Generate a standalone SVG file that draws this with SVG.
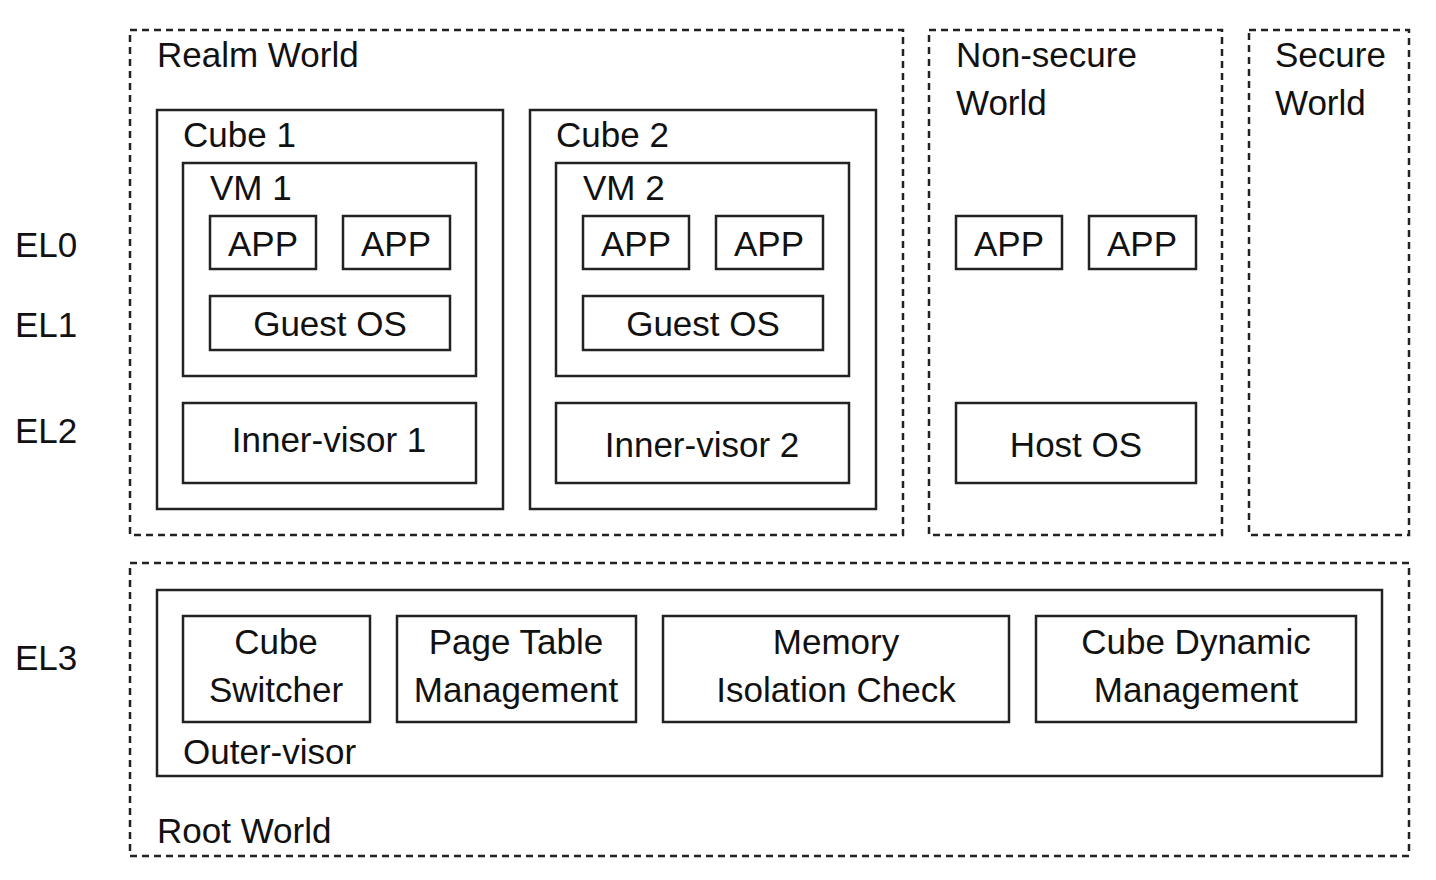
<svg xmlns="http://www.w3.org/2000/svg" width="1436" height="880" viewBox="0 0 1436 880">
<style>
.d{fill:none;stroke:#222;stroke-width:2.5;stroke-dasharray:7,5}
.b{fill:#fff;stroke:#222;stroke-width:2.5}
text{font-family:"Liberation Sans",Arial,sans-serif;font-size:35px;fill:#111}
.c{text-anchor:middle}
</style>
<rect width="1436" height="880" fill="#fff"/>
<g id="labels">
<text x="15" y="257">EL0</text><text x="15" y="337">EL1</text><text x="15" y="443">EL2</text><text x="15" y="670">EL3</text>
</g>
<g id="realm"><rect class="d" x="130" y="30" width="773" height="505"/><text x="157" y="67">Realm World</text></g>
<g id="nonsecure"><rect class="d" x="929" y="30" width="293" height="505"/><text x="956" y="67">Non-secure</text><text x="956" y="115">World</text></g>
<g id="secure"><rect class="d" x="1249" y="30" width="160" height="505"/><text x="1275" y="67">Secure</text><text x="1275" y="115">World</text></g>
<g id="root"><rect class="d" x="130" y="563" width="1279" height="293"/><text x="157" y="843">Root World</text></g>
<g id="cube1"><rect class="b" x="157" y="110" width="346" height="399"/><text x="183" y="147">Cube 1</text></g>
<g id="vm1"><rect class="b" x="183" y="163" width="293" height="213"/><text x="210" y="200">VM 1</text></g>
<g id="app1"><rect class="b" x="210" y="216" width="106" height="53"/><text class="c" x="263" y="256">APP</text></g>
<g id="app2"><rect class="b" x="343" y="216" width="107" height="53"/><text class="c" x="396" y="256">APP</text></g>
<g id="guest1"><rect class="b" x="210" y="296" width="240" height="54"/><text class="c" x="330" y="336">Guest OS</text></g>
<g id="inner1"><rect class="b" x="183" y="403" width="293" height="80"/><text class="c" x="329" y="452">Inner-visor 1</text></g>
<g id="cube2"><rect class="b" x="530" y="110" width="346" height="399"/><text x="556" y="147">Cube 2</text></g>
<g id="vm2"><rect class="b" x="556" y="163" width="293" height="213"/><text x="583" y="200">VM 2</text></g>
<g id="app3"><rect class="b" x="583" y="216" width="106" height="53"/><text class="c" x="636" y="256">APP</text></g>
<g id="app4"><rect class="b" x="716" y="216" width="107" height="53"/><text class="c" x="769" y="256">APP</text></g>
<g id="guest2"><rect class="b" x="583" y="296" width="240" height="54"/><text class="c" x="703" y="336">Guest OS</text></g>
<g id="inner2"><rect class="b" x="556" y="403" width="293" height="80"/><text class="c" x="702" y="457">Inner-visor 2</text></g>
<g id="app5"><rect class="b" x="956" y="216" width="106" height="53"/><text class="c" x="1009" y="256">APP</text></g>
<g id="app6"><rect class="b" x="1089" y="216" width="107" height="53"/><text class="c" x="1142" y="256">APP</text></g>
<g id="host"><rect class="b" x="956" y="403" width="240" height="80"/><text class="c" x="1076" y="457">Host OS</text></g>
<g id="outer"><rect class="b" x="157" y="590" width="1225" height="186"/><text x="183" y="764">Outer-visor</text></g>
<g id="switcher"><rect class="b" x="183" y="616" width="187" height="106"/><text class="c" x="276" y="654">Cube</text><text class="c" x="276" y="702">Switcher</text></g>
<g id="ptm"><rect class="b" x="397" y="616" width="239" height="106"/><text class="c" x="516" y="654">Page Table</text><text class="c" x="516" y="702">Management</text></g>
<g id="mic"><rect class="b" x="663" y="616" width="346" height="106"/><text class="c" x="836" y="654">Memory</text><text class="c" x="836" y="702">Isolation Check</text></g>
<g id="cdm"><rect class="b" x="1036" y="616" width="320" height="106"/><text class="c" x="1196" y="654">Cube Dynamic</text><text class="c" x="1196" y="702">Management</text></g>
<g id="connectors"/>
</svg>
